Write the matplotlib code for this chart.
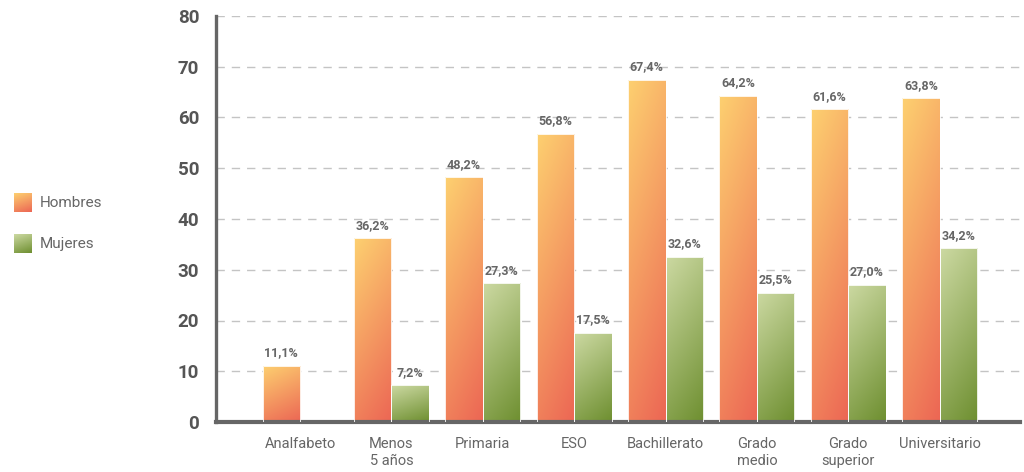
import numpy as np
import matplotlib.pyplot as plt
from matplotlib.colors import to_rgb

categorias = ["Analfabeto", "Menos\n5 años", "Primaria", "ESO", "Bachillerato",
              "Grado\nmedio", "Grado\nsuperior", "Universitario"]
hombres = [11.1, 36.2, 48.2, 56.8, 67.4, 64.2, 61.6, 63.8]
mujeres = [np.nan, 7.2, 27.3, 17.5, 32.6, 25.5, 27.0, 34.2]
series = ["Hombres", "Mujeres"]

naranja = ("#fdd070", "#ec6654")
verde = ("#ccd9a2", "#6e8f30")


def gradient(cols, n=64):
    c0 = np.array(to_rgb(cols[0]))
    c1 = np.array(to_rgb(cols[1]))
    u = np.linspace(0, 1, n)[None, :]
    v = np.linspace(0, 1, n)[:, None]
    t = np.clip(0.75 * v + 0.25 * u, 0, 1)
    return c0 * (1 - t[..., None]) + c1 * t[..., None]


def fill_bars(ax, bars, cols):
    img = gradient(cols)
    for b in bars:
        h = b.get_height()
        if np.isnan(h):
            continue
        x0, y0, w = b.get_x(), b.get_y(), b.get_width()
        im = ax.imshow(img, extent=(x0, x0 + w, y0, y0 + h), origin="upper",
                       aspect="auto", zorder=2, interpolation="bilinear")
        im.set_clip_path(b)


fig = plt.figure(figsize=(10.24, 4.72), dpi=100)
plt.rcParams["font.family"] = ["Roboto", "DejaVu Sans"]
ax = fig.add_axes([216 / 1024, 1 - 422 / 472, (1020 - 216) / 1024, 406 / 472])

x = np.arange(len(categorias))
w = 0.41
b1 = ax.bar(x - w / 2, hombres, w, facecolor="none", edgecolor="white",
            linewidth=0.6, zorder=3)
b2 = ax.bar(x + w / 2, mujeres, w, facecolor="none", edgecolor="white",
            linewidth=0.6, zorder=3)
fill_bars(ax, b1, naranja)
fill_bars(ax, b2, verde)

for bars, vals in ((b1, hombres), (b2, mujeres)):
    for b, v in zip(bars, vals):
        if np.isnan(v):
            continue
        ax.text(b.get_x() + b.get_width() / 2, v + 1.3, f"{v:.1f}%".replace(".", ","),
                ha="center", va="bottom", fontsize=9, fontweight="bold", color="#666666")

ax.set_xlim(-0.92, 7.88)
ax.set_ylim(0, 80)
ax.set_yticks(range(0, 81, 10))
ax.yaxis.grid(True, linestyle=(0, (6, 5)), color="#c4c4c4", linewidth=1)
ax.set_axisbelow(True)
ax.set_xticks(x, categorias)
ax.tick_params(axis="x", length=0, pad=11, labelsize=10.5, labelcolor="#666666")
ax.tick_params(axis="y", length=0, pad=12, labelsize=13.5, labelcolor="#555555")
for lab in ax.get_xticklabels():
    lab.set_linespacing(1.25)
for lab in ax.get_yticklabels():
    lab.set_fontweight("bold")
for s in ("top", "right"):
    ax.spines[s].set_visible(False)
ax.spines["left"].set_color("#666666")
ax.spines["left"].set_linewidth(2.4)
ax.spines["bottom"].set_color("#666666")
ax.spines["bottom"].set_linewidth(3)

# leyenda a la izquierda
for i, (name, cols) in enumerate(zip(series, (naranja, verde))):
    top = 193 + i * 41
    lax = fig.add_axes([14 / 1024, 1 - (top + 19) / 472, 18 / 1024, 19 / 472])
    lax.imshow(gradient(cols), aspect="auto", interpolation="bilinear")
    lax.axis("off")
    fig.text(40 / 1024, 1 - (top + 10) / 472, name, ha="left", va="center",
             fontsize=11, color="#666666")

fig.savefig("out.png", dpi=100)
